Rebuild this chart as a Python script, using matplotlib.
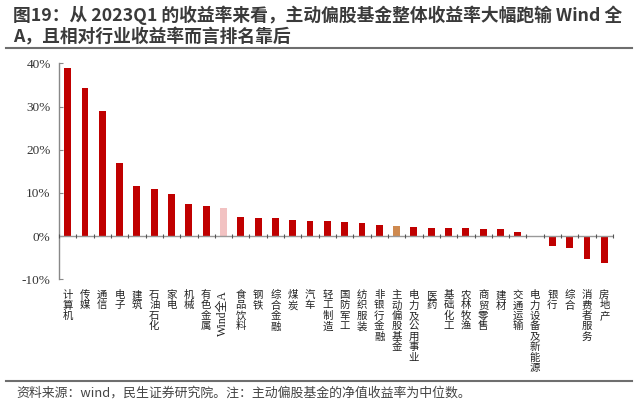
import matplotlib
matplotlib.use("Agg")
import matplotlib.pyplot as plt
import matplotlib.transforms as mtransforms
from matplotlib.lines import Line2D

plt.rcParams['font.family'] = ['Noto Sans CJK SC', 'DejaVu Sans']

categories = ["计算机", "传媒", "通信", "电子", "建筑", "石油石化", "家电", "机械",
              "有色金属", "Wind全A", "食品饮料", "钢铁", "综合金融", "煤炭", "汽车",
              "轻工制造", "国防军工", "纺织服装", "非银行金融", "主动偏股基金",
              "电力及公用事业", "医药", "基础化工", "农林牧渔", "商贸零售", "建材",
              "交通运输", "电力设备及新能源", "银行", "综合", "消费者服务", "房地产"]
returns = [38.8, 34.3, 29.0, 16.9, 11.5, 10.8, 9.7, 7.4,
           7.0, 6.5, 4.5, 4.1, 4.1, 3.8, 3.6,
           3.5, 3.2, 3.1, 2.6, 2.3,
           2.0, 1.9, 1.8, 1.8, 1.7, 1.6,
           0.85, -0.1, -2.2, -2.7, -5.3, -6.2]
yticks = [-10, 0, 10, 20, 30, 40]
ytick_labels = ["-10%", "0%", "10%", "20%", "30%", "40%"]

title1 = "图19：从 2023Q1 的收益率来看，主动偏股基金整体收益率大幅跑输 Wind 全"
title2 = "A，且相对行业收益率而言排名靠后"
footer = "资料来源：wind，民生证券研究院。注：主动偏股基金的净值收益率为中位数。"

RED = "#C00000"
colors = []
for c in categories:
    if c == "Wind全A":
        colors.append("#F2C2C2")
    elif c == "主动偏股基金":
        colors.append("#CF8A4F")
    else:
        colors.append(RED)

fig = plt.figure(figsize=(6.4, 4.07), dpi=100)
ax = fig.add_axes([59/640, 1-279.3/407, (613-59)/640, (279.3-63.3)/407])

x = list(range(len(categories)))
ax.bar(x, returns, width=0.4, color=colors, zorder=2)

ax.set_xlim(-0.5, len(categories)-0.5)
ax.set_ylim(-10, 40)
ax.set_yticks(yticks)
ax.set_yticklabels(ytick_labels, family=['Liberation Serif', 'DejaVu Sans'], fontsize=9.5, color="#333333")
ax.tick_params(axis='y', direction='in', length=3, color="#888888", pad=6)

for s in ['top', 'right', 'bottom']:
    ax.spines[s].set_visible(False)
ax.spines['left'].set_color("#888888")
ax.spines['left'].set_linewidth(1.0)

# zero axis with boundary ticks
ax.axhline(0, color="#999999", lw=1.0, zorder=3)
ax.set_xticks([])
bx = [i - 0.5 for i in range(len(categories)+1)]
ax.plot(bx, [0]*len(bx), linestyle='none', marker='|', markersize=3, color="#555555",
        markeredgewidth=0.8, zorder=4, clip_on=False)

# category labels, stacked vertically
trans = mtransforms.blended_transform_factory(ax.transData, fig.transFigure)
ylab = 1 - 290/407
for i, c in enumerate(categories):
    if c.startswith("Wind"):
        ax.text(i, ylab, c, transform=trans, rotation=90, ha='center', va='top',
                fontsize=8.5, family=['Liberation Serif', 'Noto Sans CJK SC'], color="#222222")
    else:
        ax.text(i, ylab, "\n".join(c), transform=trans, ha='center', va='top',
                fontsize=7.5, linespacing=1.05, color="#222222")

# title
fig.text(13/640, 1-15/407, title1, fontsize=12.8, fontweight='bold', color="#3a3a3a",
         va='center', ha='left')
fig.text(13/640, 1-37/407, title2, fontsize=12.8, fontweight='bold', color="#3a3a3a",
         va='center', ha='left')
fig.add_artist(Line2D([6/640, 632/640], [1-48/407, 1-48/407], color="#6e6e6e", lw=1.5,
                      transform=fig.transFigure))

# footer
fig.add_artist(Line2D([6/640, 632/640], [1-381/407, 1-381/407], color="#6e6e6e", lw=1.5,
                      transform=fig.transFigure))
fig.text(16/640, 1-393/407, footer, fontsize=9.3, color="#444444", va='center', ha='left')

fig.savefig("out.png", dpi=100)
